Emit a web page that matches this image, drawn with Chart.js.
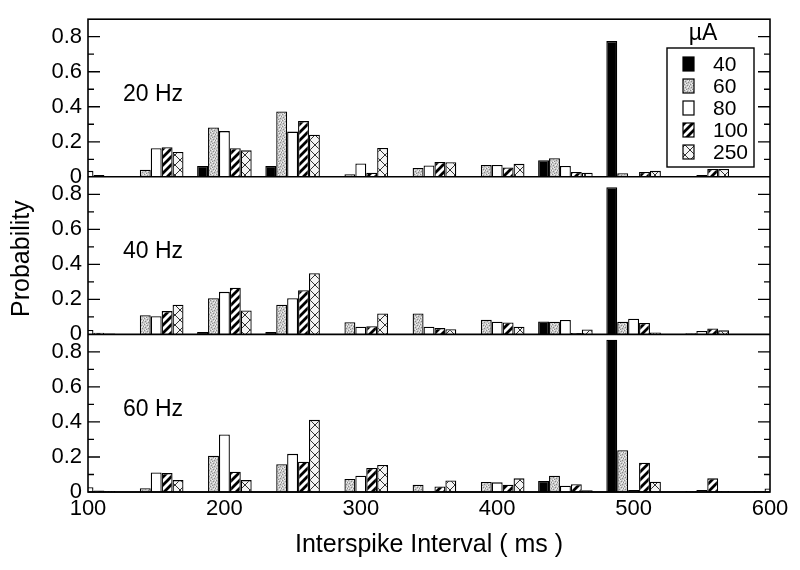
<!DOCTYPE html>
<html>
<head>
<meta charset="utf-8">
<script src="https://cdn.jsdelivr.net/npm/chart.js@4.4.0/dist/chart.umd.min.js"></script>
<style>
  html, body { margin: 0; padding: 0; background: #fff; }
  #wrap { width: 800px; height: 570px; position: relative; }
</style>
</head>
<body>
<div id="wrap"><canvas id="chart"></canvas></div>
<script>
// bin centres of the interspike interval histogram (ms)
const intervals = ['100', '150', '200', '250', '300', '350', '400', '450', '500', '550', '600']
const currents = ['40', '60', '80', '100', '250']
const panels = ['20 Hz', '40 Hz', '60 Hz']

// 20 Hz
const hz20_40 = [0, 0.003, 0.062, 0.062, 0.003, 0.003, 0.003, 0.095, 0.775, 0.002, 0.005]
const hz20_60 = [0, 0.04, 0.282, 0.373, 0.015, 0.05, 0.068, 0.106, 0.02, 0.005, 0.005]
const hz20_80 = [0.034, 0.163, 0.261, 0.258, 0.076, 0.065, 0.068, 0.062, 0, 0.01, 0]
const hz20_100 = [0.01, 0.169, 0.163, 0.318, 0.023, 0.085, 0.053, 0.027, 0.028, 0.045, 0]
const hz20_250 = [0.005, 0.142, 0.151, 0.24, 0.165, 0.083, 0.074, 0.023, 0.034, 0.045, 0]

// 40 Hz
const hz40_40 = [0, 0.002, 0.013, 0.013, 0.002, 0.002, 0.002, 0.074, 0.84, 0.002, 0.002]
const hz40_60 = [0, 0.11, 0.207, 0.169, 0.07, 0.12, 0.083, 0.072, 0.072, 0.006, 0]
const hz40_80 = [0.025, 0.104, 0.243, 0.207, 0.044, 0.044, 0.072, 0.082, 0.089, 0.019, 0]
const hz40_100 = [0.01, 0.133, 0.266, 0.252, 0.047, 0.036, 0.068, 0.008, 0.065, 0.034, 0]
const hz40_250 = [0.005, 0.169, 0.137, 0.349, 0.12, 0.03, 0.044, 0.028, 0.011, 0.023, 0]

// 60 Hz
const hz60_40 = [0, 0, 0, 0.002, 0.002, 0.002, 0.002, 0.063, 0.87, 0.002, 0.002]
const hz60_60 = [0, 0.021, 0.207, 0.159, 0.074, 0.042, 0.057, 0.093, 0.239, 0.006, 0.006]
const hz60_80 = [0.027, 0.112, 0.328, 0.218, 0.093, 0.005, 0.055, 0.036, 0.012, 0.011, 0.02]
const hz60_100 = [0.008, 0.108, 0.116, 0.173, 0.137, 0.032, 0.042, 0.044, 0.167, 0.078, 0]
const hz60_250 = [0.005, 0.068, 0.068, 0.412, 0.154, 0.066, 0.078, 0.01, 0.059, 0.006, 0]

const panelSeries = [
  [hz20_40, hz20_60, hz20_80, hz20_100, hz20_250],
  [hz40_40, hz40_60, hz40_80, hz40_100, hz40_250],
  [hz60_40, hz60_60, hz60_80, hz60_100, hz60_250]
]
const axisIds = ['y20', 'y40', 'y60']

const FONT = '"Liberation Sans", Arial, Helvetica, sans-serif'

function makePattern(size, draw) {
  const c = document.createElement('canvas')
  c.width = size
  c.height = size
  const g = c.getContext('2d')
  draw(g, size)
  return g.createPattern(c, 'repeat')
}

// fills for the five stimulus currents
const stipple = makePattern(6, (g, s) => {
  g.fillStyle = '#c9c9c9'
  g.fillRect(0, 0, s, s)
  g.fillStyle = '#8a8a8a'
  ;[[0, 0], [3, 1], [1, 3], [4, 4], [5, 2], [2, 5]].forEach(p => g.fillRect(p[0], p[1], 1, 1))
  g.fillStyle = '#f2f2f2'
  ;[[2, 0], [5, 0], [0, 2], [3, 3], [1, 5], [4, 2]].forEach(p => g.fillRect(p[0], p[1], 1, 1))
})
const hatch = makePattern(8, (g, s) => {
  g.fillStyle = '#fff'
  g.fillRect(0, 0, s, s)
  g.strokeStyle = '#000'
  g.lineWidth = 2.8
  g.beginPath()
  g.moveTo(-1, s + 1); g.lineTo(s + 1, -1)
  g.moveTo(-s / 2 - 1, s / 2 + 1); g.lineTo(s / 2 + 1, -s / 2 - 1)
  g.moveTo(s / 2 - 1, s * 1.5 + 1); g.lineTo(s * 1.5 + 1, s / 2 - 1)
  g.stroke()
})
const cross = makePattern(10, (g, s) => {
  g.fillStyle = '#f4f4f4'
  g.fillRect(0, 0, s, s)
  g.strokeStyle = '#333'
  g.lineWidth = 1
  g.beginPath()
  g.moveTo(0, 0); g.lineTo(s, s)
  g.moveTo(0, s); g.lineTo(s, 0)
  g.stroke()
})
const fills = ['#000', stipple, '#fff', hatch, cross]

const datasets = []
panelSeries.forEach((series, p) => {
  series.forEach((vals, k) => {
    datasets.push({
      label: currents[k] + ' µA, ' + panels[p],
      data: vals,
      yAxisID: axisIds[p],
      stack: 'c' + k,
      backgroundColor: fills[k],
      borderColor: '#000',
      borderWidth: 1.3,
      categoryPercentage: 0.8,
      barPercentage: 1
    })
  })
})

function yAxis() {
  return {
    type: 'linear',
    stack: 'panels',
    stackWeight: 1,
    stacked: false,
    min: 0,
    max: 0.9,
    offset: false,
    grid: { display: false, drawTicks: false },
    border: { display: false },
    ticks: {
      stepSize: 0.1,
      autoSkip: false,
      padding: 6,
      color: '#000',
      font: { family: FONT, size: 22 },
      callback: v => {
        const n = Math.round(v * 10)
        return n % 2 === 0 && n <= 8 ? String(n / 10) : ''
      }
    },
    afterFit: s => { s.width = 88 }
  }
}

// frame, panel dividers and inward tick marks
const framePlugin = {
  id: 'frame',
  afterDraw(chart) {
    const ctx = chart.ctx
    const a = chart.chartArea
    ctx.save()
    ctx.strokeStyle = '#000'
    ctx.lineWidth = 1.6
    ctx.strokeRect(a.left, a.top, a.right - a.left, a.bottom - a.top)
    axisIds.forEach((id, p) => {
      const sc = chart.scales[id]
      const y0 = sc.getPixelForValue(0)
      ctx.beginPath()
      ctx.moveTo(a.left, y0)
      ctx.lineTo(a.right, y0)
      ctx.stroke()
      ctx.lineWidth = 1.3
      for (let i = 1; i <= 8; i++) {
        const y = sc.getPixelForValue(i / 10)
        const len = i % 2 === 0 ? 12 : 6
        ctx.beginPath()
        ctx.moveTo(a.left, y); ctx.lineTo(a.left + len, y)
        ctx.moveTo(a.right, y); ctx.lineTo(a.right - len, y)
        ctx.stroke()
      }
      ctx.lineWidth = 1.6
      // panel label
      ctx.fillStyle = '#000'
      ctx.font = '23px ' + FONT
      ctx.textAlign = 'left'
      ctx.textBaseline = 'middle'
      ctx.fillText(panels[p], 123, sc.getPixelForValue(0.47))
    })

    // y title
    ctx.save()
    ctx.translate(22, (a.top + a.bottom) / 2 + 3)
    ctx.rotate(-Math.PI / 2)
    ctx.font = '25px ' + FONT
    ctx.textAlign = 'center'
    ctx.textBaseline = 'middle'
    ctx.fillText('Probability', 0, 0)
    ctx.restore()

    // legend box in the 20 Hz panel
    const lx = 667, ly = 48, lw = 87, lh = 119
    ctx.fillStyle = '#fff'
    ctx.fillRect(lx, ly, lw, lh)
    ctx.lineWidth = 1.4
    ctx.strokeRect(lx, ly, lw, lh)
    ctx.fillStyle = '#000'
    ctx.font = '23px ' + FONT
    ctx.textAlign = 'center'
    ctx.textBaseline = 'middle'
    ctx.fillText('µA', 703, 34)
    ctx.font = '21px ' + FONT
    ctx.textAlign = 'left'
    currents.forEach((c, k) => {
      const cy = 64 + k * 22
      ctx.fillStyle = fills[k]
      ctx.fillRect(683, cy - 7, 11, 14)
      ctx.lineWidth = 1.2
      ctx.strokeRect(683, cy - 7, 11, 14)
      ctx.fillStyle = '#000'
      ctx.fillText(c, 713, cy + 1)
    })
    ctx.restore()
  }
}

new Chart(document.getElementById('chart'), {
  type: 'bar',
  data: { labels: intervals, datasets: datasets },
  options: {
    responsive: true,
    maintainAspectRatio: false,
    animation: false,
    layout: { padding: { top: 16, right: 30, left: 0, bottom: 0 } },
    plugins: { legend: { display: false }, tooltip: { enabled: false } },
    scales: {
      x: {
        type: 'category',
        offset: false,
        grid: { display: false, drawTicks: false },
        border: { display: false },
        ticks: {
          autoSkip: false,
          maxRotation: 0,
          padding: 4,
          color: '#000',
          font: { family: FONT, size: 22 },
          callback: (v, i) => i % 2 === 0 ? intervals[i] : ''
        },
        title: {
          display: true,
          text: 'Interspike Interval ( ms )',
          color: '#000',
          font: { family: FONT, size: 25 },
          padding: { top: 0, bottom: 10 }
        },
        afterFit: s => { s.height = 78 }
      },
      // stacked axes are laid out bottom-up, so the 60 Hz panel comes first
      y60: yAxis(),
      y40: yAxis(),
      y20: yAxis()
    }
  },
  plugins: [framePlugin]
})
</script>
</body>
</html>
